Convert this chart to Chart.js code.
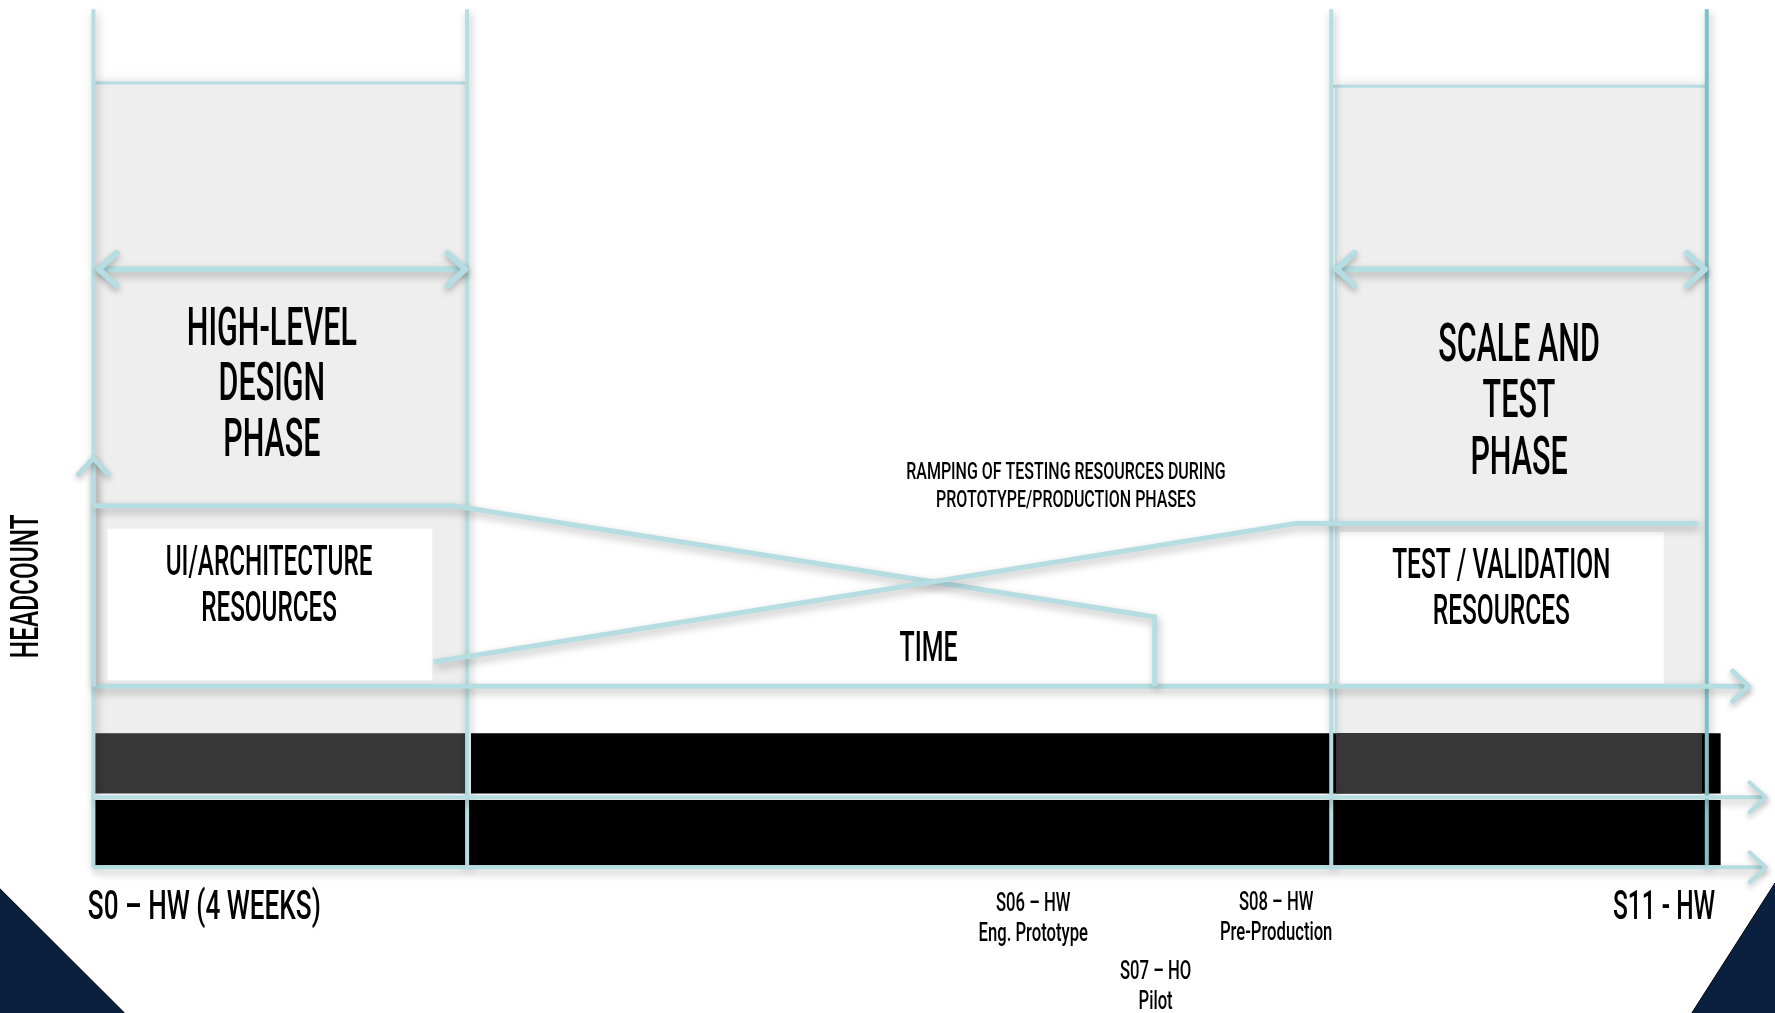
<!DOCTYPE html>
<html>
<head>
<meta charset="utf-8">
<script src="https://cdn.jsdelivr.net/npm/chart.js@4.4.1/dist/chart.umd.min.js"></script>
<style>
  html, body { margin: 0; padding: 0; background: #ffffff; }
  canvas { display: block; }
</style>
</head>
<body>
<canvas id="c" width="1775" height="1013"></canvas>
<script>
// ---------------- DATA (x = time in weeks, y = relative headcount) ----------------
const phaseNames      = ["HIGH-LEVEL DESIGN PHASE", "SCALE AND TEST PHASE"];
const phaseStart      = [0, 13.25];
const phaseEnd        = [4, 17.27];
const phaseBoxTop     = [9.23, 9.18];
const phaseBoxBottom  = [-0.72, -0.72];
const phaseLineTop    = 10.36;
const phaseLineBottom = -2.77;
const phaseArrowY     = 6.38;

const uiResourceX   = [0, 3.85, 11.36, 11.36];
const uiResourceY   = [2.76, 2.76, 1.06, 0];
const testResourceX = [3.64, 12.87, 17.18];
const testResourceY = [0.37, 2.49, 2.49];

const headcountAxisTop = 3.49;
const timeAxisEnd      = 17.72;

const timelineStart  = 0;
const timelineEnd    = 17.42;
const timelineArrowEnd = 17.9;
const row1Top = -0.72, row1Bottom = -1.64;
const row2Top = -1.74, row2Bottom = -2.74;
const rowLinesY = [-1.70, -2.77];

const labelBoxes = [
  { name: "UI/ARCHITECTURE RESOURCES", x0: 0.15, x1: 3.63, y0: 0.09, y1: 2.41 },
  { name: "TEST / VALIDATION RESOURCES", x0: 13.34, x1: 16.81, y0: 0.02, y1: 2.36 },
  { name: "TIME", x0: 7.82, x1: 10.05, y0: 0.07, y1: 0.97 }
];

// text annotations (anchors in data units)
const textBlocks = [
  { lines: ["HIGH-LEVEL", "DESIGN", "PHASE"], x: 1.91, y: 5.43, dy: 0.85, size: 54, align: "center", w: 1 },
  { lines: ["SCALE AND", "TEST", "PHASE"], x: 15.26, y: 5.19, dy: 0.865, size: 54, align: "center", w: 1 },
  { lines: ["UI/ARCHITECTURE", "RESOURCES"], x: 1.88, y: 1.87, dy: 0.70, size: 43, align: "center", w: 1 },
  { lines: ["TEST / VALIDATION", "RESOURCES"], x: 15.07, y: 1.82, dy: 0.70, size: 43, align: "center", w: 1.01 },
  { lines: ["TIME"], x: 8.94, y: 0.54, dy: 0, size: 42, align: "center", w: 1.05 },
  { lines: ["RAMPING OF TESTING RESOURCES DURING", "PROTOTYPE/PRODUCTION PHASES"], x: 10.41, y: 3.27, dy: 0.43, size: 24, align: "center", w: 1.18 },
  { lines: ["S0 – HW (4 WEEKS)"], x: -0.06, y: -3.41, dy: 0, size: 41, align: "left", w: 1.13 },
  { lines: ["S11 - HW"], x: 17.36, y: -3.41, dy: 0, size: 41, align: "right", w: 1.06 },
  { lines: ["S06 – HW", "Eng. Prototype"], x: 10.06, y: -3.35, dy: 0.46, size: 25, align: "center", w: 1.18 },
  { lines: ["S08 – HW", "Pre-Production"], x: 12.66, y: -3.33, dy: 0.45, size: 25, align: "center", w: 1.18 },
  { lines: ["S07 – HO", "Pilot"], x: 11.37, y: -4.39, dy: 0.46, size: 25, align: "center", w: 1.18 },
  { lines: ["HEADCOUNT"], x: -0.70, y: 1.53, dy: 0, size: 39, align: "center", rotate: -Math.PI / 2, w: 1.11 }
];

// ---------------- STYLE ----------------
const TEAL = "#b6dde1";
const TEAL_DARK = "#7fc1c8";
const GRAY_BOX = "#eeeeee";
const DARK_BAR = "#383838";
const NAVY = "#0b1f3f";
const LINE_SHADOW = { color: "rgba(0,0,0,0.28)", blur: 8, offX: 2, offY: 4 };
const BOX_SHADOW  = { color: "rgba(0,0,0,0.30)", blur: 14, offX: 0, offY: 3 };

// ---------------- HELPERS ----------------
const pts = (xs, ys) => xs.map((x, i) => ({ x, y: ys[i] }));
let orderCounter = 1000;
function rect(x0, x1, yTop, yBottom, color, shadow) {
  return {
    data: pts([x0, x1], [yTop, yTop]),
    fill: { value: yBottom },
    backgroundColor: color,
    borderColor: "transparent",
    borderWidth: 0,
    pointRadius: 0,
    shadow: shadow || null,
    order: orderCounter--
  };
}
function line(xs, ys, color, width, opts) {
  return Object.assign({
    data: pts(xs, ys),
    fill: false,
    borderColor: color,
    borderWidth: width,
    pointRadius: 0,
    tension: 0,
    borderCapStyle: "butt",
    borderJoinStyle: "miter",
    shadow: LINE_SHADOW,
    order: orderCounter--
  }, opts || {});
}

const datasets = [];
// navy corners
datasets.push(Object.assign(rect(-1, 0.333, -3.10, -5, NAVY), { data: pts([-1, 0.333], [-3.10, -5]), borderColor: "#000", borderWidth: 1 }));
datasets.push(Object.assign(rect(17.11, 18, -5, -5, NAVY), { data: pts([17.11, 18], [-5, -3.01]), borderColor: "#000", borderWidth: 1 }));
// phase boxes
phaseStart.forEach((s, i) => {
  datasets.push(rect(s + (i === 1 ? 0.05 : 0), phaseEnd[i], phaseBoxTop[i], phaseBoxBottom[i], GRAY_BOX, BOX_SHADOW));
});
// timeline bars
datasets.push(rect(timelineStart, phaseEnd[0], row1Top, row1Bottom, DARK_BAR));
datasets.push(rect(phaseEnd[0] + 0.04, timelineEnd, row1Top, row1Bottom, "#000000"));
datasets.push(rect(phaseStart[1] + 0.05, phaseEnd[1] - 0.05, row1Top, row1Bottom, DARK_BAR));
datasets.push(rect(timelineStart, timelineEnd, row2Top, row2Bottom, "#000000"));
// white label boxes
labelBoxes.forEach(b => datasets.push(rect(b.x0, b.x1, b.y1, b.y0, "#ffffff")));
// phase box top borders
phaseStart.forEach((s, i) => datasets.push(line([s, phaseEnd[i]], [phaseBoxTop[i], phaseBoxTop[i]], TEAL, 3, { shadow: null })));
// phase vertical lines
datasets.push(line([phaseStart[0], phaseStart[0]], [phaseLineTop, phaseLineBottom], TEAL, 4));
datasets.push(line([phaseEnd[0], phaseEnd[0]], [phaseLineTop, phaseLineBottom], TEAL, 4));
datasets.push(line([phaseStart[1], phaseStart[1]], [phaseLineTop, phaseLineBottom], TEAL, 4));
datasets.push(line([phaseStart[1] + 0.05, phaseStart[1] + 0.05], [phaseBoxTop[1], phaseBoxBottom[1]], TEAL, 2, { shadow: null }));
datasets.push(line([phaseEnd[1], phaseEnd[1]], [phaseLineTop, phaseLineBottom], TEAL_DARK, 4));
// double arrows
phaseStart.forEach((s, i) => datasets.push(line([s + 0.06, phaseEnd[i] - 0.02], [phaseArrowY, phaseArrowY], TEAL, 6, { arrow: "both", arrowSize: 24 })));
// timeline row lines
rowLinesY.forEach(y => datasets.push(line([timelineStart, timelineArrowEnd], [y, y], TEAL, 4, { arrow: "end", arrowSize: 22 })));
// headcount / time axes
datasets.push(line([0, timeAxisEnd], [0, 0], TEAL, 5, { arrow: "end", arrowSize: 22 }));
datasets.push(line([0, 0], [0, headcountAxisTop], TEAL, 5, { arrow: "end", arrowSize: 22 }));
// resource curves
datasets.push(line(uiResourceX, uiResourceY, TEAL, 5));
datasets.push(line(testResourceX, testResourceY, TEAL, 5));

// ---------------- PLUGINS ----------------
const shadowPlugin = {
  id: "dsShadow",
  beforeDatasetDraw(chart, args) {
    const ds = chart.data.datasets[args.index];
    chart.ctx.save();
    if (ds.shadow) {
      chart.ctx.shadowColor = ds.shadow.color;
      chart.ctx.shadowBlur = ds.shadow.blur;
      chart.ctx.shadowOffsetX = ds.shadow.offX;
      chart.ctx.shadowOffsetY = ds.shadow.offY;
    }
  },
  afterDatasetDraw(chart) { chart.ctx.restore(); }
};
// make the shadow hook run before the Filler so fills get shadows too
const fillerPlugin = Chart.registry.plugins.get("filler");
if (fillerPlugin) Chart.unregister(fillerPlugin);
Chart.register(shadowPlugin);
if (fillerPlugin) Chart.register(fillerPlugin);

const arrowPlugin = {
  id: "arrowHeads",
  afterDatasetsDraw(chart) {
    const ctx = chart.ctx;
    chart.data.datasets.forEach((ds, i) => {
      if (!ds.arrow) return;
      const el = chart.getDatasetMeta(i).data;
      if (el.length < 2) return;
      const heads = [];
      if (ds.arrow === "end" || ds.arrow === "both") heads.push([el[el.length - 1], el[el.length - 2]]);
      if (ds.arrow === "start" || ds.arrow === "both") heads.push([el[0], el[1]]);
      heads.forEach(([tip, prev]) => {
        const dx = tip.x - prev.x, dy = tip.y - prev.y;
        const len = Math.hypot(dx, dy) || 1;
        const ux = dx / len, uy = dy / len;
        const L = ds.arrowSize || 20, a = Math.PI / 4.2;
        ctx.save();
        ctx.shadowColor = LINE_SHADOW.color; ctx.shadowBlur = 6; ctx.shadowOffsetY = 3;
        ctx.strokeStyle = ds.borderColor;
        ctx.lineWidth = ds.borderWidth;
        ctx.lineCap = "round";
        ctx.lineJoin = "miter";
        ctx.beginPath();
        for (const s of [1, -1]) {
          const ca = Math.cos(s * a), sa = Math.sin(s * a);
          const rx = ux * ca - uy * sa, ry = ux * sa + uy * ca;
          ctx.moveTo(tip.x - rx * L, tip.y - ry * L);
          ctx.lineTo(tip.x, tip.y);
        }
        ctx.stroke();
        ctx.restore();
      });
    });
  }
};

const FONT_FAMILY = "Roboto, 'Liberation Sans', sans-serif";
const textPlugin = {
  id: "texts",
  afterDatasetsDraw(chart) {
    const ctx = chart.ctx;
    const xs = chart.scales.x, ys = chart.scales.y;
    ctx.save();
    ctx.font = `500 54px ${FONT_FAMILY}`;
    const condense = 170 / ctx.measureText("HIGH-LEVEL").width;
    ctx.restore();
    textBlocks.forEach(b => {
      b.lines.forEach((t, k) => {
        const px = xs.getPixelForValue(b.x);
        const py = ys.getPixelForValue(b.y - k * b.dy);
        ctx.save();
        ctx.translate(px, py);
        if (b.rotate) ctx.rotate(b.rotate);
        ctx.scale(condense * (b.w || 1), 1);
        ctx.font = `500 ${b.size}px ${FONT_FAMILY}`;
        ctx.textAlign = b.align;
        ctx.textBaseline = "middle";
        ctx.fillStyle = "#000000";
        ctx.fillText(t, 0, 0);
        ctx.restore();
      });
    });
  }
};

new Chart(document.getElementById("c"), {
  type: "line",
  data: { datasets },
  options: {
    responsive: false,
    devicePixelRatio: 1,
    animation: false,
    events: [],
    layout: { padding: 0 },
    plugins: { legend: { display: false }, tooltip: { enabled: false }, title: { display: false } },
    scales: {
      x: { type: "linear", min: -1, max: 18, display: false },
      y: { type: "linear", min: -5, max: 10.5, display: false }
    }
  },
  plugins: [arrowPlugin, textPlugin]
});
</script>
</body>
</html>
